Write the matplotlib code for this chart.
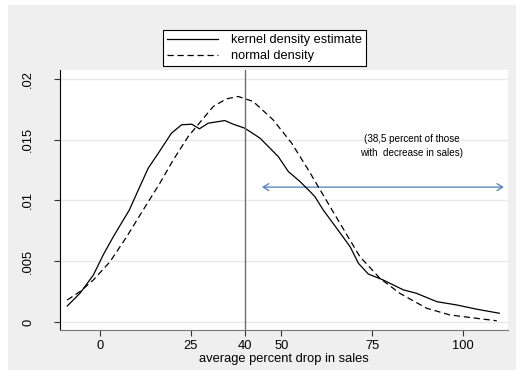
import matplotlib.pyplot as plt
from matplotlib.patches import Rectangle, FancyArrowPatch

# Values
kde_x = [-9.0, -5.5, -1.8, 0.9, 3.7, 8.1, 11.0, 13.3, 16.1, 19.7, 22.5, 25.3, 27.4,
         29.8, 34.4, 36.7, 39.9, 44.1, 49.1, 51.9, 55.1, 57.9, 59.2, 61.5, 65.2,
         68.9, 71.2, 73.9, 78.0, 83.6, 87.2, 92.8, 98.3, 103.8, 110.0]
kde_y = [0.00132, 0.00236, 0.00387, 0.00552, 0.00703, 0.00922, 0.01115, 0.01266,
         0.01390, 0.01554, 0.01623, 0.01628, 0.01590, 0.01636, 0.01658, 0.01628,
         0.01595, 0.01513, 0.01362, 0.01238, 0.01156, 0.01073, 0.01032, 0.00922,
         0.00772, 0.00620, 0.00483, 0.00395, 0.00346, 0.00264, 0.00236, 0.00167,
         0.00140, 0.00105, 0.00072]

normal_x = [-9.0, -5.5, -1.8, 2.8, 7.4, 11.9, 16.5, 20.2, 24.3, 26.6, 31.2, 34.8,
            38.1, 42.2, 47.7, 52.8, 57.4, 60.1, 66.1, 71.6, 77.1, 82.6, 90.0,
            96.4, 103.8, 109.3]
normal_y = [0.00181, 0.00250, 0.00346, 0.00497, 0.00703, 0.00922, 0.01142, 0.01334,
            0.01526, 0.01609, 0.01773, 0.01836, 0.01856, 0.01815, 0.01664, 0.01472,
            0.01252, 0.01115, 0.00813, 0.00538, 0.00360, 0.00236, 0.00113,
            0.00058, 0.00030, 0.00010]

x_ticks = [0, 25, 40, 50, 75, 100]
y_ticks = [0, 0.005, 0.01, 0.015, 0.02]
y_tick_labels = ["0", ".005", ".01", ".015", ".02"]

cutoff = 40
arrow_span = (43.9, 112.0)
arrow_level = 0.0111
note = "(38,5 percent of those\nwith  decrease in sales)"

plt.rcParams["font.family"] = ["Liberation Sans", "DejaVu Sans"]

fig = plt.figure(figsize=(5.16, 3.70), dpi=100, facecolor="white")
fig.patches.append(Rectangle((8 / 516, 0), 1, 1 - 5 / 370, transform=fig.transFigure,
                             facecolor="#efefef", edgecolor="none", zorder=-10))
ax = fig.add_axes([60 / 516, 1 - 330 / 370, 448 / 516, 260 / 370])
ax.set_facecolor("white")

ax.plot(kde_x, kde_y, color="black", lw=0.9, label="kernel density estimate")
ax.plot(normal_x, normal_y, color="black", lw=0.9, ls=(0, (5, 3)), label="normal density")
ax.axvline(cutoff, color="#6e6e6e", lw=1.0)

ax.add_patch(FancyArrowPatch((arrow_span[0], arrow_level), (arrow_span[1], arrow_level),
                             arrowstyle="<->,head_length=4,head_width=2.5",
                             color="#4a7ebb", lw=0.9, mutation_scale=1))
ax.text(85.8, 0.0145, note, ha="center", va="center", fontsize=7.1, linespacing=1.45)

ax.set_xlim(-11.0, 112.4)
ax.set_ylim(-0.00066, 0.02074)
ax.set_xticks(x_ticks)
ax.set_yticks(y_ticks)
ax.set_yticklabels(y_tick_labels, rotation=90, va="center")
ax.tick_params(axis="both", labelsize=9.3, length=4.5, color="#333333", width=0.8)
ax.tick_params(axis="y", pad=14)
ax.tick_params(axis="x", pad=3.0)
ax.yaxis.grid(True, color="#e8e8e8", lw=1.0)
ax.set_axisbelow(True)
ax.set_xlabel("average percent drop in sales", fontsize=9.3, labelpad=0.5)

for side in ["top", "right"]:
    ax.spines[side].set_visible(False)
ax.spines["left"].set_color("black")
ax.spines["bottom"].set_color("#777777")

fig.legend(loc="upper center", bbox_to_anchor=(264.5 / 516, 1 - 24 / 370), fontsize=9.2,
           frameon=True, fancybox=False, edgecolor="black", facecolor="white",
           framealpha=1, handlelength=4.0, borderpad=0.3, labelspacing=0.3,
           handletextpad=1.0)
legend = fig.legends[0]
legend.get_frame().set_linewidth(0.8)

fig.savefig("out.png", dpi=100, facecolor=fig.get_facecolor())
